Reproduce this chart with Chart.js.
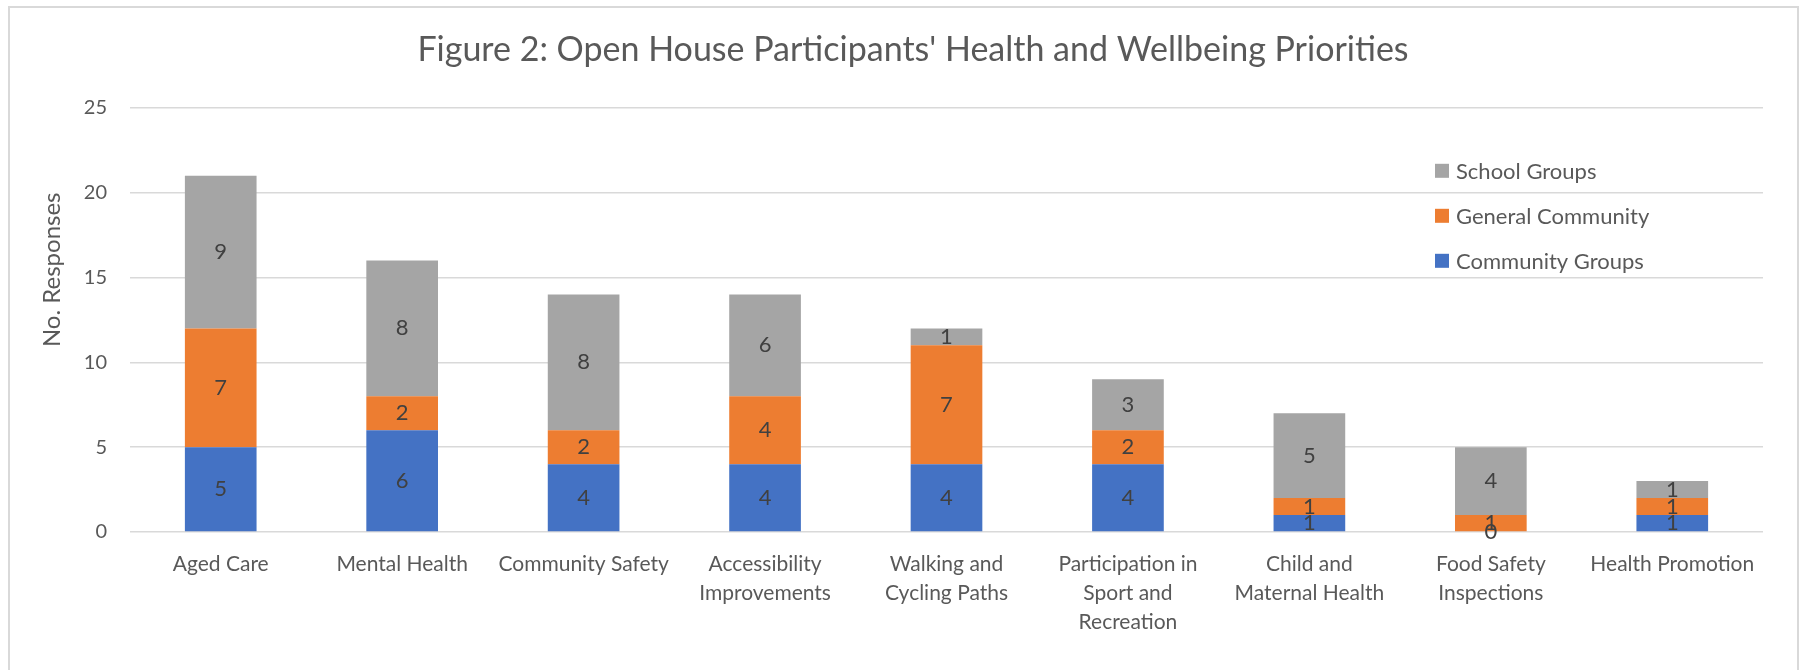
<!DOCTYPE html>
<html>
<head>
<meta charset="utf-8">
<title>Figure 2</title>
<script src="https://cdn.jsdelivr.net/npm/chart.js@4.4.1/dist/chart.umd.min.js"></script>
<style>
  body { margin: 0; background: #fff; }
  #wrap { position: relative; width: 1807px; height: 670px; overflow: hidden; }
  #frame { position: absolute; left: 8px; top: 6px; width: 1791px; height: 700px; border: 2px solid #d9d9d9; box-sizing: border-box; pointer-events: none; }
  #chart { position: absolute; left: 0; top: 0; }
</style>
</head>
<body>
<div id="wrap">
  <canvas id="chart" width="1807" height="670"></canvas>
  <div id="frame"></div>
</div>
<script>
const categories = [
  'Aged Care',
  'Mental Health',
  'Community Safety',
  ['Accessibility', 'Improvements'],
  ['Walking and', 'Cycling Paths'],
  ['Participation in', 'Sport and', 'Recreation'],
  ['Child and', 'Maternal Health'],
  ['Food Safety', 'Inspections'],
  'Health Promotion'
];
const communityGroups = [5, 6, 4, 4, 4, 4, 1, 0, 1];
const generalCommunity = [7, 2, 2, 4, 7, 2, 1, 1, 1];
const schoolGroups = [9, 8, 8, 6, 1, 3, 5, 4, 1];
const yMin = 0;
const yMax = 25;
const yStep = 5;
const yTitle = 'No. Responses';

const textColor = '#595959';
const fontFamily = 'Lato, "Open Sans", sans-serif';

// value written in the middle of every stacked piece
const segmentLabels = {
  id: 'segmentLabels',
  afterDatasetsDraw(chart) {
    const ctx = chart.ctx;
    ctx.save();
    ctx.font = '22px ' + fontFamily;
    ctx.fillStyle = '#404040';
    ctx.textAlign = 'center';
    ctx.textBaseline = 'middle';
    chart.data.datasets.forEach((ds, i) => {
      chart.getDatasetMeta(i).data.forEach((bar, j) => {
        ctx.fillText(ds.data[j], bar.x, (bar.y + bar.base) / 2);
      });
    });
    ctx.restore();
  }
};

// legend sits inside the plot, top right, last series first
const insideLegend = {
  id: 'insideLegend',
  afterDraw(chart) {
    const ctx = chart.ctx;
    const area = chart.chartArea;
    const x = area.right - 328;
    let y = area.top + 63;
    ctx.save();
    ctx.font = '22px ' + fontFamily;
    ctx.textAlign = 'left';
    ctx.textBaseline = 'middle';
    chart.data.datasets.slice().reverse().forEach(ds => {
      ctx.fillStyle = ds.backgroundColor;
      ctx.fillRect(x, y - 7, 14, 14);
      ctx.fillStyle = textColor;
      ctx.fillText(ds.label, x + 21, y + 1);
      y += 45;
    });
    ctx.restore();
  }
};

// axis title sits a bit above the middle of the plot, like the original
const sideTitle = {
  id: 'sideTitle',
  afterDraw(chart) {
    const ctx = chart.ctx;
    const area = chart.chartArea;
    ctx.save();
    ctx.translate(52, area.top + 162);
    ctx.rotate(-Math.PI / 2);
    ctx.font = '24px ' + fontFamily;
    ctx.fillStyle = textColor;
    ctx.textAlign = 'center';
    ctx.textBaseline = 'middle';
    ctx.fillText(yTitle, 0, 0);
    ctx.restore();
  }
};

const config = {
  type: 'bar',
  data: {
    labels: categories,
    datasets: [
      { label: 'Community Groups', data: communityGroups, backgroundColor: '#4472C4' },
      { label: 'General Community', data: generalCommunity, backgroundColor: '#ED7D31' },
      { label: 'School Groups', data: schoolGroups, backgroundColor: '#A5A5A5' }
    ]
  },
  options: {
    responsive: false,
    animation: false,
    layout: { padding: { left: 63, right: 44, top: 30, bottom: 0 } },
    datasets: {
      bar: { categoryPercentage: 1.0, barPercentage: 0.395 }
    },
    plugins: {
      legend: { display: false },
      tooltip: { enabled: false },
      title: {
        display: true,
        text: "Figure 2: Open House Participants' Health and Wellbeing Priorities",
        color: textColor,
        font: { family: fontFamily, size: 34, weight: 'normal' },
        padding: { top: 0, bottom: 37 }
      }
    },
    scales: {
      x: {
        stacked: true,
        grid: { display: false, drawTicks: false },
        border: { display: false },
        ticks: {
          color: textColor,
          font: { family: fontFamily, size: 21, lineHeight: 1.38 },
          padding: 18,
          maxRotation: 0,
          autoSkip: false
        },
        afterFit(scale) { scale.height = 138; }
      },
      y: {
        stacked: true,
        min: yMin,
        max: yMax,
        border: { display: false },
        grid: { color: '#d9d9d9', lineWidth: 1.5, drawTicks: false },
        ticks: {
          stepSize: yStep,
          color: textColor,
          font: { family: fontFamily, size: 20 },
          padding: 23
        },
        afterFit(scale) { scale.width = 67; }
      }
    }
  },
  plugins: [segmentLabels, insideLegend, sideTitle]
};

const chart = new Chart(document.getElementById('chart'), config);
</script>
</body>
</html>
